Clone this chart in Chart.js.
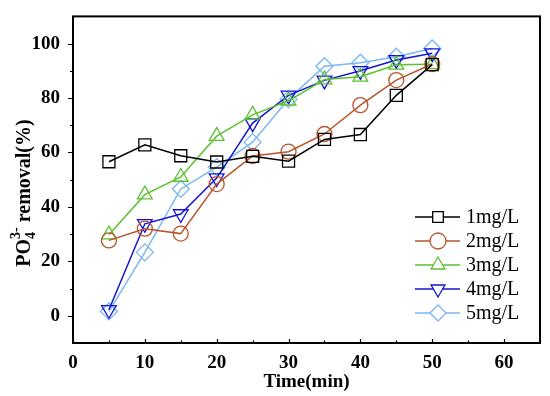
<!DOCTYPE html>
<html>
<head>
<meta charset="utf-8">
<script src="https://cdn.jsdelivr.net/npm/chart.js@4.4.0/dist/chart.umd.js"></script>
<style>
  html, body { margin: 0; padding: 0; background: #fff; }
  #wrap { width: 550px; height: 396px; position: relative; }
</style>
</head>
<body>
<div id="wrap"><canvas id="c"></canvas></div>
<script>
// dati
const times = [5, 10, 15, 20, 25, 30, 35, 40, 45, 50];
const labels = ['1mg/L', '2mg/L', '3mg/L', '4mg/L', '5mg/L'];
const c1 = [56.6, 62.8, 58.8, 56.5, 58.6, 56.8, 64.8, 66.6, 81, 92.3];
const c2 = [27.7, 32, 30.2, 48.4, 58.7, 60.3, 66.8, 77.4, 86.6, 92.5];
const c3 = [29.8, 44.5, 51, 66, 73.8, 79, 86.8, 87.8, 92.2, 92.4];
const c4 = [2.2, 33.8, 37.4, 50.6, 70.8, 81, 86.5, 90, 94, 96.5];
const c5 = [1.6, 23.3, 46.6, 54.6, 63.8, 79.6, 91.7, 93, 95.2, 98.2];
const xTicks = [0, 10, 20, 30, 40, 50, 60];
const yTicks = [0, 20, 40, 60, 80, 100];

const colors = ['#000000', '#b8542a', '#5cc130', '#1414d2', '#7ab8f0'];
const markers = ['rect', 'circle', 'triangle', 'triangle', 'rectRot'];
const rotations = [0, 0, 0, 180, 0];
const radii = [8.5, 7.5, 8.5, 8.5, 8.5];
const series = [c1, c2, c3, c4, c5];

const FONT = '"Liberation Serif", "Times New Roman", serif';

const datasets = series.map((vals, i) => ({
    label: labels[i],
    data: vals.map((v, j) => ({ x: times[j], y: v })),
    borderColor: colors[i],
    backgroundColor: colors[i],
    borderWidth: 1.5,
    pointStyle: markers[i],
    rotation: rotations[i],
    pointRadius: radii[i],
    pointBackgroundColor: 'rgba(255,255,255,0)',
    pointBorderColor: colors[i],
    pointBorderWidth: 1.3,
    tension: 0
}));

// cornice, tacche, titolo asse y e legenda
const decor = {
    id: 'decor',
    afterDraw(chart) {
        const ctx = chart.ctx;
        const a = chart.chartArea;
        const xs = chart.scales.x, ys = chart.scales.y;
        ctx.save();
        ctx.strokeStyle = '#000';
        ctx.lineWidth = 2;
        ctx.strokeRect(a.left, a.top, a.right - a.left, a.bottom - a.top);

        ctx.lineWidth = 1.2;
        ctx.beginPath();
        for (let v = 0; v <= 65; v += 5) {
            const px = Math.round(xs.getPixelForValue(v)) + 0.5;
            const len = v % 10 === 0 ? 4 : 2.5;
            ctx.moveTo(px, a.bottom);
            ctx.lineTo(px, a.bottom - len);
        }
        for (let v = 0; v <= 100; v += 10) {
            const py = Math.round(ys.getPixelForValue(v)) + 0.5;
            const len = v % 20 === 0 ? 5 : 3;
            ctx.moveTo(a.left, py);
            ctx.lineTo(a.left - len, py);
        }
        ctx.stroke();

        // titolo asse y con pedice e apice
        ctx.translate(23, 193);
        ctx.rotate(-Math.PI / 2);
        ctx.fillStyle = '#000';
        ctx.textBaseline = 'alphabetic';
        const big = 'bold 20px ' + FONT, small = 'bold 14px ' + FONT;
        const parts = [
            { t: 'PO', f: big, dy: 0 },
            { t: '4', f: small, dy: 5 },
            { t: '3-', f: small, dy: -10, back: true },
            { t: ' removal(%)', f: big, dy: 0 }
        ];
        let widths = [];
        parts.forEach(p => { ctx.font = p.f; widths.push(ctx.measureText(p.t).width); });
        const total = widths[0] + Math.max(widths[1], widths[2]) + widths[3];
        let x = -total / 2;
        let subStart = 0;
        parts.forEach((p, i) => {
            ctx.font = p.f;
            if (i === 1) subStart = x;
            if (p.back) x = subStart;
            ctx.fillText(p.t, x, 7 + p.dy);
            x += widths[i];
            if (i === 2) x = subStart + Math.max(widths[1], widths[2]);
        });
        ctx.restore();

        // legenda
        ctx.save();
        const lx0 = 415, lx1 = 460, mx = 438, tx = 466;
        chart.data.datasets.forEach((ds, i) => {
            const y = 217 + i * 24;
            ctx.strokeStyle = ds.borderColor;
            ctx.lineWidth = 1.5;
            ctx.beginPath();
            ctx.moveTo(lx0, y);
            ctx.lineTo(lx1, y);
            ctx.stroke();
            ctx.fillStyle = '#fff';
            ctx.lineWidth = 1.3;
            Chart.helpers.drawPoint(ctx, {
                pointStyle: ds.pointStyle,
                rotation: ds.rotation,
                radius: ds.pointStyle === 'rect' ? 7.5 : 8,
                borderWidth: 1.3
            }, mx, y);
            ctx.fillStyle = '#000';
            ctx.font = '20px ' + FONT;
            ctx.textBaseline = 'middle';
            ctx.fillText(ds.label, tx, y + 1);
        });
        ctx.restore();
    }
};

new Chart(document.getElementById('c'), {
    type: 'line',
    data: { datasets },
    options: {
        responsive: true,
        maintainAspectRatio: false,
        animation: false,
        layout: { padding: { left: 0, top: 14, right: 10, bottom: 0 } },
        plugins: { legend: { display: false }, tooltip: { enabled: false } },
        scales: {
            x: {
                type: 'linear', min: 0, max: 65,
                afterFit: s => { s.height = 53; },
                afterBuildTicks: s => { s.ticks = xTicks.map(v => ({ value: v })); },
                grid: { display: false },
                border: { display: false },
                ticks: { color: '#000', font: { family: FONT, size: 19, weight: 'bold' }, padding: 1, maxRotation: 0 },
                title: { display: true, text: 'Time(min)', color: '#000', font: { family: FONT, size: 19, weight: 'bold' }, padding: { top: 0, bottom: 3 } }
            },
            y: {
                type: 'linear', min: -10, max: 110,
                afterFit: s => { s.width = 73; },
                afterBuildTicks: s => { s.ticks = yTicks.map(v => ({ value: v })); },
                grid: { display: false },
                border: { display: false },
                ticks: { color: '#000', font: { family: FONT, size: 19, weight: 'bold' }, padding: 5 }
            }
        }
    },
    plugins: [decor]
});
</script>
</body>
</html>
